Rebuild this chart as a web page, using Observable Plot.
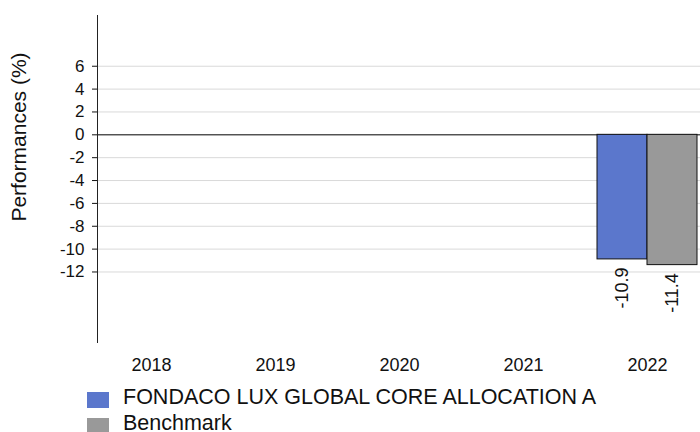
<!DOCTYPE html>
<html>
<head>
<meta charset="utf-8">
<script src="https://cdn.jsdelivr.net/npm/d3@7"></script>
<script src="https://cdn.jsdelivr.net/npm/@observablehq/plot@0.6"></script>
<style>
  body { margin: 0; background: white; font-family: "Liberation Sans", Arial, sans-serif; }
  #legend { padding-left: 87px; margin-top: 4px; font-size: 21.5px; color: #111; }
  .row { display: flex; align-items: center; height: 26px; line-height: 26px; white-space: nowrap; }
  .sw { display: inline-block; width: 22px; height: 16px; margin-right: 14px; position: relative; top: 3px; }
</style>
</head>
<body>
<div id="chart"></div>
<div id="legend"></div>
<script>
const years = ["2018", "2019", "2020", "2021", "2022"];
const seriesNames = ["FONDACO LUX GLOBAL CORE ALLOCATION A", "Benchmark"];
const fundValues = [null, null, null, null, -10.9];
const benchValues = [null, null, null, null, -11.4];
const yTicks = [-12, -10, -8, -6, -4, -2, 0, 2, 4, 6];
const yLabel = "Performances (%)";
const colors = ["#5b77cc", "#999999"];

const fund = years.map((y, i) => ({year: y, value: fundValues[i]})).filter(d => d.value != null);
const bench = years.map((y, i) => ({year: y, value: benchValues[i]})).filter(d => d.value != null);

const font = "Liberation Sans, Arial, sans-serif";

const chart = Plot.plot({
  width: 700,
  height: 380,
  marginLeft: 97,
  marginRight: 0,
  marginTop: 15,
  marginBottom: 38,
  style: {fontFamily: font, color: "#111", background: "white"},
  x: {type: "band", domain: years, range: [89, 709], padding: 0},
  y: {domain: [-18.17, 10.44]},
  marks: [
    Plot.gridY(yTicks, {stroke: "#d9d9d9", strokeOpacity: 1}),
    Plot.ruleY([0], {stroke: "#111", strokeWidth: 1}),
    Plot.frame({anchor: "left", stroke: "#222"}),
    Plot.axisY({ticks: yTicks, tickSize: 5, tickPadding: 8, fontSize: 17, tickFormat: d => String(d), label: null}),
    Plot.text([yLabel], {frameAnchor: "left", text: d => d, rotate: -90, textAnchor: "middle", lineAnchor: "middle", dx: -78, dy: -42, fontSize: 21, fill: "#111"}),
    Plot.axisX({tickSize: 0, tickPadding: 16, fontSize: 18, label: null}),
    Plot.barY(fund, {x: "year", y: "value", fill: colors[0], stroke: "#111", strokeWidth: 1, insetLeft: 37, insetRight: 37, dx: -25}),
    Plot.barY(bench, {x: "year", y: "value", fill: colors[1], stroke: "#111", strokeWidth: 1, insetLeft: 37, insetRight: 37, dx: 25}),
    Plot.text(fund, {x: "year", y: "value", text: d => d.value.toFixed(1), rotate: -90, textAnchor: "end", lineAnchor: "middle", dx: -25, dy: 8, fontSize: 18, fill: "#111"}),
    Plot.text(bench, {x: "year", y: "value", text: d => d.value.toFixed(1), rotate: -90, textAnchor: "end", lineAnchor: "middle", dx: 25, dy: 8, fontSize: 18, fill: "#111"})
  ]
});
document.getElementById("chart").appendChild(chart);

const legend = document.getElementById("legend");
seriesNames.forEach((name, i) => {
  const row = document.createElement("div");
  row.className = "row";
  const sw = document.createElement("span");
  sw.className = "sw";
  sw.style.background = colors[i];
  row.appendChild(sw);
  row.appendChild(document.createTextNode(name));
  legend.appendChild(row);
});
</script>
</body>
</html>
